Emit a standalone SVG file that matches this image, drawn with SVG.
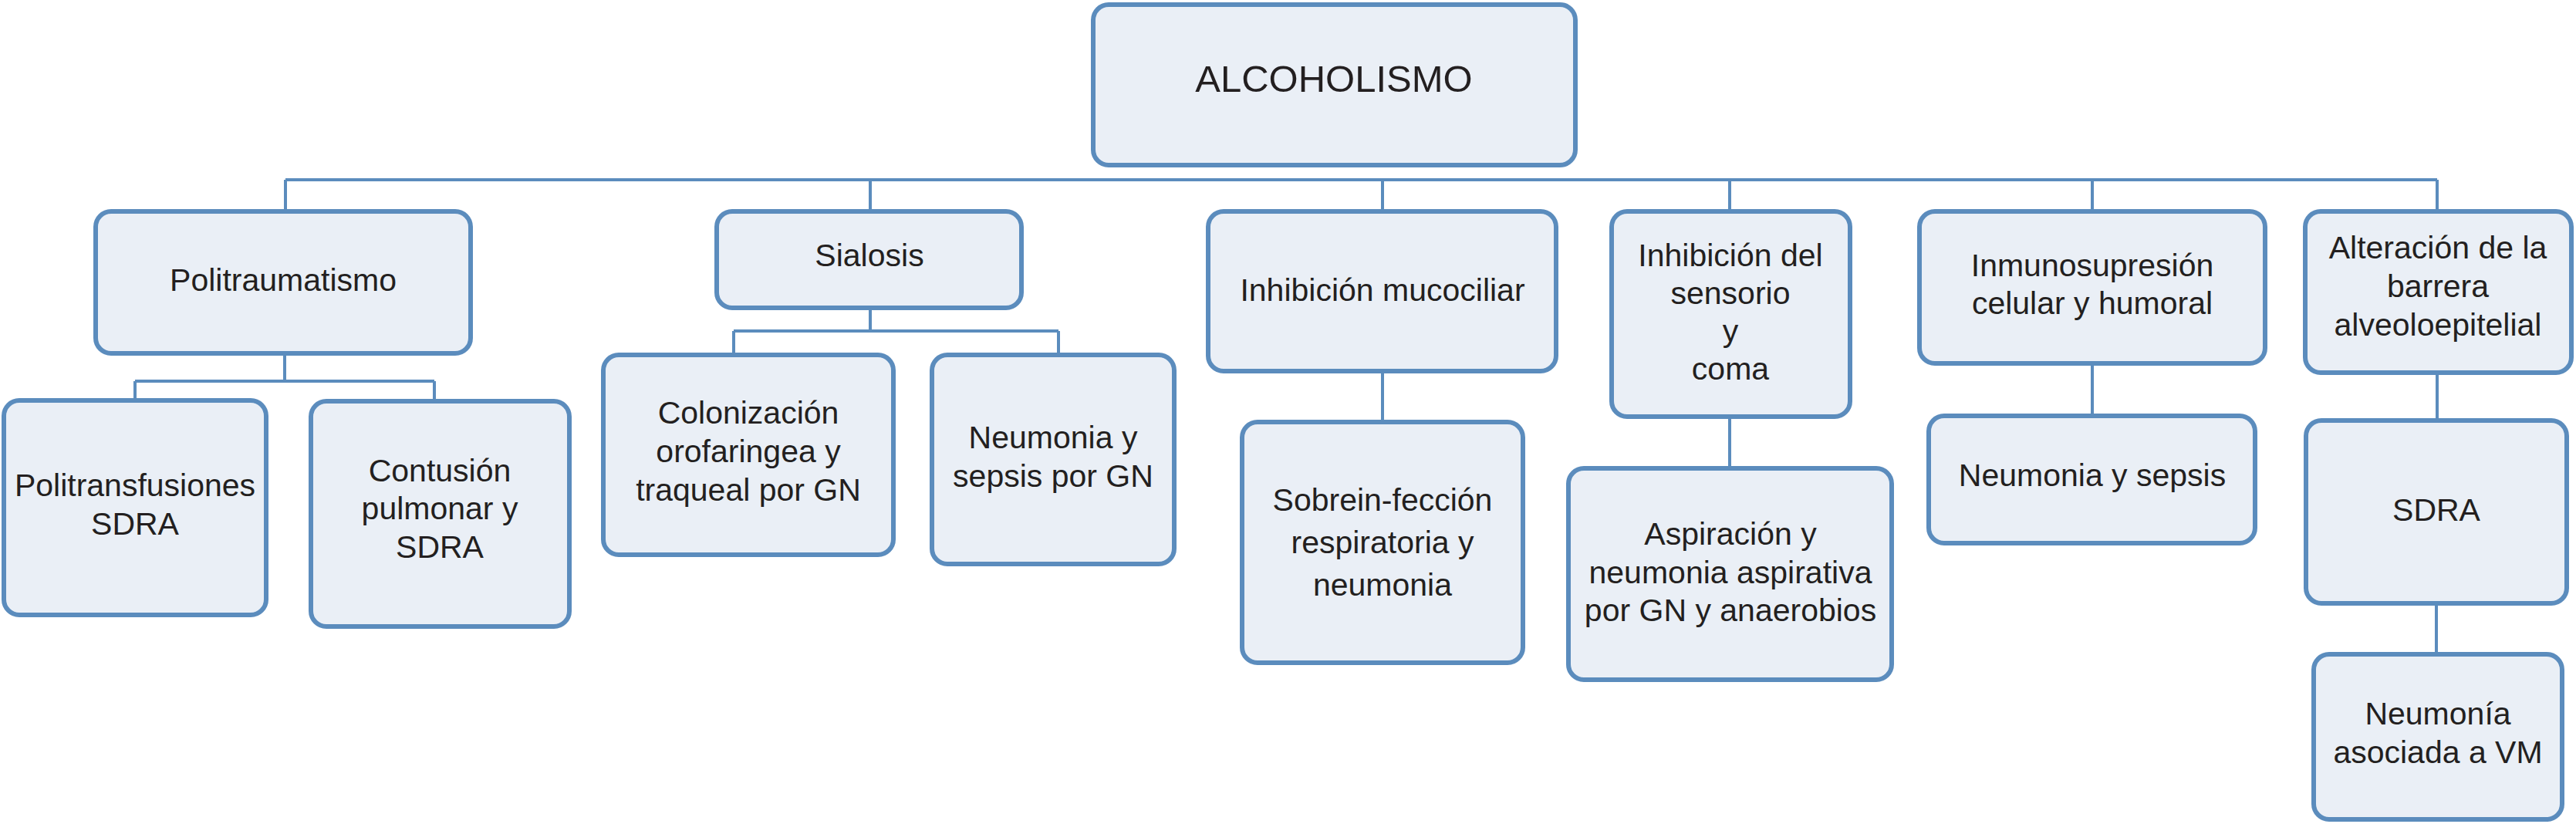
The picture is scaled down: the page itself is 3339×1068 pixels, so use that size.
<svg xmlns="http://www.w3.org/2000/svg" width="3339" height="1068" viewBox="0 0 3339 1068">
<style>
.box{fill:#EAEFF6;stroke:#5B8CBD;stroke-width:6}
.con{fill:none;stroke:#5B8CBD;stroke-width:4}
.t{font-family:"Liberation Sans",Arial,sans-serif;font-size:41px;fill:#231F20;text-anchor:middle}
.title{font-size:49px}
</style>
<rect width="3339" height="1068" fill="#FFFFFF"/>
<g id="connectors">
<path class="con" d="M370 233H3159M370 233V272M1128 233V272M1792 233V272M2242 233V272M2712 233V272M3159 233V272"/>
<path class="con" d="M369 461V494M175 494H563M175 494V518M563 494V518"/>
<path class="con" d="M1128 402V429M951 429H1372M951 429V458M1372 429V458"/>
<path class="con" d="M1792 484V545"/>
<path class="con" d="M2242 543V605"/>
<path class="con" d="M2712 474V537"/>
<path class="con" d="M3159 486V543"/>
<path class="con" d="M3158 785V846"/>
</g>
<g id="n0"><rect class="box" x="1417" y="6" width="625" height="208" rx="20"/><text class="t title" x="1729" y="119">ALCOHOLISMO</text></g>
<g id="n1"><rect class="box" x="124" y="274" width="486" height="184" rx="20"/><text class="t" x="367" y="377">Politraumatismo</text></g>
<g id="n2"><rect class="box" x="5" y="519" width="340" height="278" rx="20"/><text class="t" x="175" y="643">Politransfusiones</text><text class="t" x="175" y="693">SDRA</text></g>
<g id="n3"><rect class="box" x="403" y="520" width="335" height="292" rx="20"/><text class="t" x="570" y="624">Contusión</text><text class="t" x="570" y="673">pulmonar y</text><text class="t" x="570" y="723">SDRA</text></g>
<g id="n4"><rect class="box" x="929" y="274" width="395" height="125" rx="20"/><text class="t" x="1127" y="345">Sialosis</text></g>
<g id="n5"><rect class="box" x="782" y="460" width="376" height="259" rx="20"/><text class="t" x="970" y="549">Colonización</text><text class="t" x="970" y="599">orofaringea y</text><text class="t" x="970" y="649">traqueal por GN</text></g>
<g id="n6"><rect class="box" x="1208" y="460" width="314" height="271" rx="20"/><text class="t" x="1365" y="581">Neumonia y</text><text class="t" x="1365" y="631">sepsis por GN</text></g>
<g id="n7"><rect class="box" x="1566" y="274" width="451" height="207" rx="20"/><text class="t" x="1792" y="390">Inhibición mucociliar</text></g>
<g id="n8"><rect class="box" x="1610" y="547" width="364" height="312" rx="20"/><text class="t" x="1792" y="662">Sobrein-fección</text><text class="t" x="1792" y="717">respiratoria y</text><text class="t" x="1792" y="772">neumonia</text></g>
<g id="n9"><rect class="box" x="2089" y="274" width="309" height="266" rx="20"/><text class="t" x="2243" y="345">Inhibición del</text><text class="t" x="2243" y="394">sensorio</text><text class="t" x="2243" y="443">y</text><text class="t" x="2243" y="492">coma</text></g>
<g id="n10"><rect class="box" x="2033" y="607" width="419" height="274" rx="20"/><text class="t" x="2243" y="706">Aspiración y</text><text class="t" x="2243" y="756">neumonia aspirativa</text><text class="t" x="2243" y="805">por GN y anaerobios</text></g>
<g id="n11"><rect class="box" x="2488" y="274" width="448" height="197" rx="20"/><text class="t" x="2712" y="358">Inmunosupresión</text><text class="t" x="2712" y="407">celular y humoral</text></g>
<g id="n12"><rect class="box" x="2500" y="539" width="423" height="165" rx="20"/><text class="t" x="2712" y="630">Neumonia y sepsis</text></g>
<g id="n13"><rect class="box" x="2988" y="274" width="345" height="209" rx="20"/><text class="t" x="3160" y="335">Alteración de la</text><text class="t" x="3160" y="385">barrera</text><text class="t" x="3160" y="435">alveoloepitelial</text></g>
<g id="n14"><rect class="box" x="2989" y="545" width="338" height="237" rx="20"/><text class="t" x="3158" y="675">SDRA</text></g>
<g id="n15"><rect class="box" x="2999" y="848" width="322" height="214" rx="20"/><text class="t" x="3160" y="939">Neumonía</text><text class="t" x="3160" y="989">asociada a VM</text></g>
</svg>
